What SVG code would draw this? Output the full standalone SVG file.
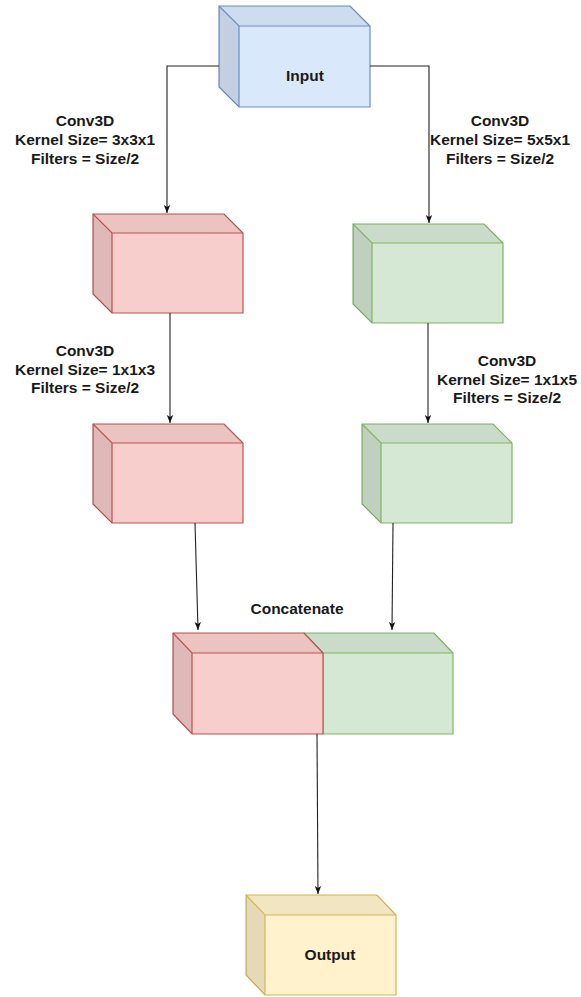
<svg xmlns="http://www.w3.org/2000/svg" width="581" height="997" viewBox="0 0 581 997">
  <defs>
    <marker id="arrow" viewBox="0 0 10 10" refX="10" refY="5" markerWidth="8" markerHeight="8" markerUnits="userSpaceOnUse" orient="auto">
      <path d="M0,1 L10,5 L0,9 L2.5,5 Z" fill="#111"/>
    </marker>
  </defs>
  <style>
    .lbl { font-family: "Liberation Sans", Arial, sans-serif; font-size: 15.5px; font-weight: bold; fill: #1a1a1a; text-anchor: middle; }
    .edge { fill: none; stroke: #222; stroke-width: 1.1; marker-end: url(#arrow); }
    .shade1 { fill: #000; fill-opacity: 0.05; stroke: none; }
    .shade2 { fill: #000; fill-opacity: 0.1; stroke: none; }
    .blue { fill: #dae8fc; stroke: #6c8ebf; }
    .red { fill: #f8cecc; stroke: #b85450; }
    .green { fill: #d5e8d4; stroke: #82b366; }
    .yellow { fill: #fff2cc; stroke: #d6b656; }
    .cube path { stroke-width: 1.2; stroke-linejoin: miter; }
    .inner { fill: none; }
  </style>

  <!-- Input cube -->
  <g id="input" class="cube">
    <path class="blue" d="M219,6 H350 L370,26 V107 H239 L219,87 Z"/>
    <path class="shade1" d="M219,6 H350 L370,26 H239 Z"/>
    <path class="shade2" d="M219,6 L239,26 V107 L219,87 Z"/>
    <path class="blue inner" d="M219,6 L239,26 H370 M239,26 V107"/>
    <text class="lbl" x="305" y="81">Input</text>
  </g>

  <!-- Left branch, first conv -->
  <g id="conv-left-1" class="cube">
    <path class="red" d="M93,214 H224 L243,233 V313 H112 L93,294 Z"/>
    <path class="shade1" d="M93,214 H224 L243,233 H112 Z"/>
    <path class="shade2" d="M93,214 L112,233 V313 L93,294 Z"/>
    <path class="red inner" d="M93,214 L112,233 H243 M112,233 V313"/>
  </g>

  <!-- Right branch, first conv -->
  <g id="conv-right-1" class="cube">
    <path class="green" d="M353,224 H484 L503,243 V323 H372 L353,304 Z"/>
    <path class="shade1" d="M353,224 H484 L503,243 H372 Z"/>
    <path class="shade2" d="M353,224 L372,243 V323 L353,304 Z"/>
    <path class="green inner" d="M353,224 L372,243 H503 M372,243 V323"/>
  </g>

  <!-- Left branch, second conv -->
  <g id="conv-left-2" class="cube">
    <path class="red" d="M93,424 H224 L243,443 V523 H112 L93,504 Z"/>
    <path class="shade1" d="M93,424 H224 L243,443 H112 Z"/>
    <path class="shade2" d="M93,424 L112,443 V523 L93,504 Z"/>
    <path class="red inner" d="M93,424 L112,443 H243 M112,443 V523"/>
  </g>

  <!-- Right branch, second conv -->
  <g id="conv-right-2" class="cube">
    <path class="green" d="M362,424 H493 L512,443 V523 H381 L362,504 Z"/>
    <path class="shade1" d="M362,424 H493 L512,443 H381 Z"/>
    <path class="shade2" d="M362,424 L381,443 V523 L362,504 Z"/>
    <path class="green inner" d="M362,424 L381,443 H512 M381,443 V523"/>
  </g>

  <!-- Concatenated block: green half behind, red half in front -->
  <g id="concat-green" class="cube">
    <path class="green" d="M304,633 H434 L453,653 V734 H323 L304,714 Z"/>
    <path class="shade1" d="M304,633 H434 L453,653 H323 Z"/>
    <path class="green inner" d="M304,633 L323,653 H453 M323,653 V734"/>
  </g>
  <g id="concat-red" class="cube">
    <path class="red" d="M173,633 H304 L323,653 V734 H192 L173,714 Z"/>
    <path class="shade1" d="M173,633 H304 L323,653 H192 Z"/>
    <path class="shade2" d="M173,633 L192,653 V734 L173,714 Z"/>
    <path class="red inner" d="M173,633 L192,653 H323 M192,653 V734"/>
  </g>

  <!-- Output cube -->
  <g id="output" class="cube">
    <path class="yellow" d="M246,895 H377 L396,915 V995 H265 L246,975 Z"/>
    <path class="shade1" d="M246,895 H377 L396,915 H265 Z"/>
    <path class="shade2" d="M246,895 L265,915 V995 L246,975 Z"/>
    <path class="yellow inner" d="M246,895 L265,915 H396 M265,915 V995"/>
    <text class="lbl" x="330" y="960">Output</text>
  </g>

  <!-- Connectors -->
  <g id="connectors">
    <path class="edge" d="M219,66 H167 V213"/>
    <path class="edge" d="M370,66 H429 V223"/>
    <path class="edge" d="M170,313 V423"/>
    <path class="edge" d="M428,323 V423"/>
    <path class="edge" d="M195,523 L198,630"/>
    <path class="edge" d="M393,523 L392,630"/>
    <path class="edge" d="M317,734 L318,894"/>
  </g>

  <!-- Layer labels -->
  <g id="labels">
    <text class="lbl" x="85" y="126">Conv3D</text>
    <text class="lbl" x="85" y="145">Kernel Size= 3x3x1</text>
    <text class="lbl" x="85" y="164">Filters = Size/2</text>

    <text class="lbl" x="500" y="126">Conv3D</text>
    <text class="lbl" x="500" y="145">Kernel Size= 5x5x1</text>
    <text class="lbl" x="500" y="164">Filters = Size/2</text>

    <text class="lbl" x="85" y="356">Conv3D</text>
    <text class="lbl" x="85" y="375">Kernel Size= 1x1x3</text>
    <text class="lbl" x="85" y="393">Filters = Size/2</text>

    <text class="lbl" x="507" y="366">Conv3D</text>
    <text class="lbl" x="507" y="385">Kernel Size= 1x1x5</text>
    <text class="lbl" x="507" y="403">Filters = Size/2</text>

    <text class="lbl" x="297" y="614">Concatenate</text>
  </g>
</svg>
